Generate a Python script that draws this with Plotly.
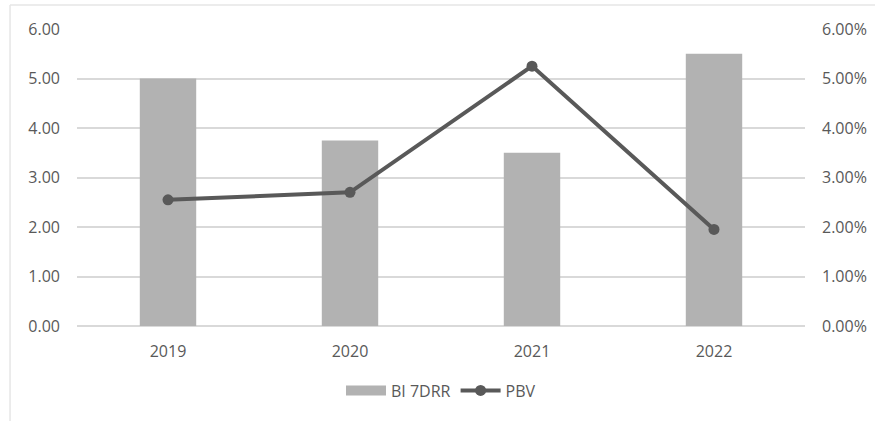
import plotly.graph_objects as go

years = ["2019", "2020", "2021", "2022"]
bi_7drr = [0.0500, 0.0375, 0.0350, 0.0550]   # policy rate, right axis (%)
pbv = [2.55, 2.70, 5.25, 1.95]               # price-to-book value, left axis

text_color = "#595959"
grid_color = "#d9d9d9"
bar_color = "#b2b2b2"
font_family = "Open Sans, Liberation Sans, sans-serif"
tick_font = dict(size=16, color=text_color)

fig = go.Figure()

# legend swatch for the bars: a wide flat band instead of the default square
fig.add_trace(go.Scatter(
    x=[None], y=[None], name="BI 7DRR", yaxis="y", mode="lines",
    line=dict(color=bar_color, width=10), hoverinfo="skip",
))

# bars on the base (right, percent) axis so the line axis is drawn on top
fig.add_trace(go.Bar(
    x=years, y=bi_7drr, name="BI 7DRR", yaxis="y", showlegend=False,
    marker=dict(color=bar_color, line=dict(width=0)),
    width=0.31,
))

fig.add_trace(go.Scatter(
    x=years, y=pbv, name="PBV", yaxis="y2",
    mode="lines+markers",
    line=dict(color="#595959", width=4),
    marker=dict(color="#595959", size=11),
))

fig.update_layout(
    width=875, height=421,
    margin=dict(l=77, r=70, t=29, b=95),
    paper_bgcolor="white", plot_bgcolor="white",
    font=dict(family=font_family, size=16, color=text_color),
    showlegend=True,
    legend=dict(orientation="h", x=0.5, xanchor="center", y=-0.16, yanchor="top",
                font=dict(size=16, color=text_color), traceorder="normal",
                itemwidth=40),
    xaxis=dict(type="category", categoryorder="array", categoryarray=years,
               showgrid=False, showline=False, ticks="", ticklabelstandoff=14,
               tickfont=tick_font, automargin=False),
    yaxis=dict(range=[0, 0.06], dtick=0.01, tickformat=".2%", side="right",
               showgrid=True, gridcolor=grid_color, gridwidth=1.5,
               zeroline=True, zerolinecolor=grid_color, zerolinewidth=1.5,
               showline=False, ticks="", ticklabelstandoff=16, tickfont=tick_font,
               automargin=False),
    yaxis2=dict(range=[0, 6], dtick=1, tickformat=".2f", overlaying="y", side="left",
                showgrid=False, zeroline=False, showline=False, ticks="",
                ticklabelstandoff=16, tickfont=tick_font, automargin=False),
)

# light chart-area frame (top and left edges)
fig.add_shape(type="line", xref="paper", yref="paper", x0=-0.092, x1=1.2, y0=1.081, y1=1.081,
              line=dict(color="#e6e6e6", width=1.5))
fig.add_shape(type="line", xref="paper", yref="paper", x0=-0.092, x1=-0.092, y0=-0.35, y1=1.081,
              line=dict(color="#e6e6e6", width=1.5))

fig.write_html("out.html")
